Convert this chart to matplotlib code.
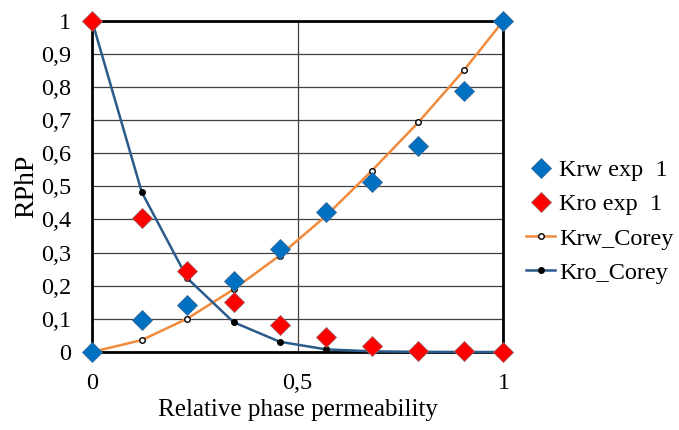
import numpy as np
import matplotlib
matplotlib.use("Agg")
import matplotlib.pyplot as plt
from matplotlib.ticker import FuncFormatter, MultipleLocator

# saturation points
x = [0, 0.121, 0.232, 0.344, 0.456, 0.568, 0.680, 0.793, 0.905, 1.0]
krw_exp = [0, 0.098, 0.142, 0.213, 0.312, 0.421, 0.513, 0.621, 0.789, 1.0]
kro_exp = [1.0, 0.405, 0.244, 0.151, 0.082, 0.044, 0.018, 0.004, 0.003, 0]
krw_corey = [0, 0.036, 0.101, 0.189, 0.291, 0.41, 0.547, 0.693, 0.852, 1.0]
kro_corey = [1.0, 0.482, 0.222, 0.090, 0.031, 0.008, 0.002, 0.0005, 0, 0]

plt.rcParams['font.family'] = ['Liberation Serif', 'DejaVu Serif']

fig = plt.figure(figsize=(6.79, 4.30), dpi=100)
ax = fig.add_axes([0.1355, 0.1814, 0.606, 0.7706])

ax.plot(x, krw_corey, color='#F08A3C', lw=1.8, marker='o', ms=4,
        mfc='white', mec='black', mew=1.0, label='Krw_Corey', zorder=3, clip_on=False)
ax.plot(x, kro_corey, color='#2B5B8A', lw=1.8, marker='o', ms=4,
        mfc='black', mec='black', label='Kro_Corey', zorder=3, clip_on=False)
ax.plot(x, krw_exp, ls='none', marker='D', ms=10.5, mfc='#0070C0',
        mec='#3a6a9a', mew=0.6, label='Krw exp  1', zorder=4, clip_on=False)
ax.plot(x, kro_exp, ls='none', marker='D', ms=10.5, mfc='#FF0000',
        mec='#a06060', mew=0.6, label='Kro exp  1', zorder=4, clip_on=False)

ax.set_xlim(0, 1)
ax.set_ylim(0, 1)
ax.xaxis.set_major_locator(MultipleLocator(0.5))
ax.yaxis.set_major_locator(MultipleLocator(0.1))
fmt = FuncFormatter(lambda v, p: ('%g' % round(v, 2)).replace('.', ','))
ax.xaxis.set_major_formatter(fmt)
ax.yaxis.set_major_formatter(fmt)
ax.tick_params(length=0, pad=15, labelsize=17.5)

ax.grid(True, color='#404040', lw=0.9)
ax.set_axisbelow(True)
for s in ax.spines.values():
    s.set_linewidth(2)
    s.set_color('black')

ax.set_xlabel('Relative phase permeability', fontsize=18, labelpad=4)
ax.set_ylabel('RPhP', fontsize=20, labelpad=1)

h, l = ax.get_legend_handles_labels()
order = [2, 3, 0, 1]
fig.legend([h[i] for i in order], [l[i] for i in order], loc='center left',
           bbox_to_anchor=(0.775, 0.485), frameon=False, fontsize=17.5,
           handlelength=1.2, handletextpad=0.15, labelspacing=0.5,
           borderpad=0, borderaxespad=0)

fig.savefig('out.png', dpi=100)
